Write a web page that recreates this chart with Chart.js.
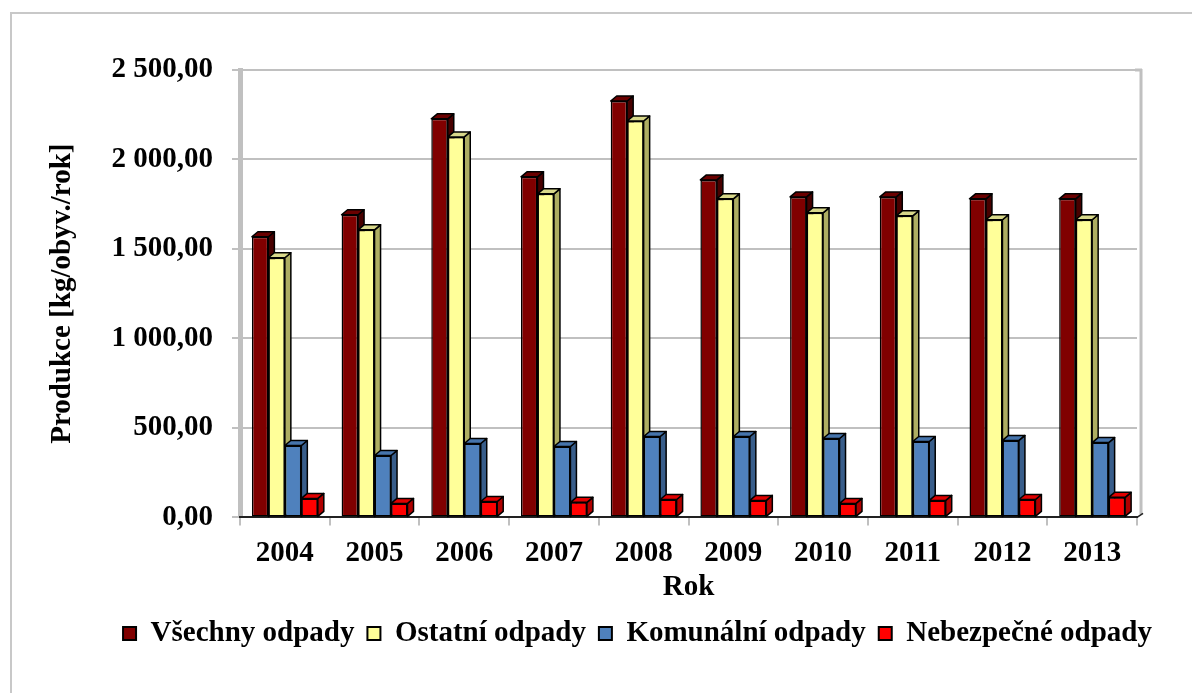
<!DOCTYPE html>
<html><head><meta charset="utf-8">
<script src="https://cdn.jsdelivr.net/npm/chart.js@4/dist/chart.umd.min.js"></script>
<style>html,body{margin:0;padding:0;background:#fff;}#wrap{width:1192px;height:693px;position:relative;}</style>
</head><body><div id="wrap"><canvas id="c" width="1192" height="693"></canvas></div>
<script>
const years = ['2004','2005','2006','2007','2008','2009','2010','2011','2012','2013'];
const vsechny    = [1568,1691,2227,1903,2327,1886,1791,1791,1780,1780];
const ostatni    = [1451,1607,2126,1808,2215,1780,1702,1685,1663,1663];
const komunalni  = [402,346,413,396,452,452,441,424,430,418];
const nebezpecne = [106,78,89,84,100,95,78,95,100,112];
const seriesNames = ['Všechny odpady','Ostatní odpady','Komunální odpady','Nebezpečné odpady'];
const yTicks = [0,500,1000,1500,2000,2500];
const yTitle = 'Produkce [kg/obyv./rok]';
const xTitle = 'Rok';

const frontColors = ['#800000','#FFFF99','#4F81BD','#FF0000'];
const topColors   = ['#6A0000','#D8D88A','#4674AC','#E00000'];
const sideColors  = ['#480000','#AEAE62','#385D8A','#B00000'];
const FONT = '"Liberation Serif", "Times New Roman", serif';

function fmt(v){
  const s = Number(v).toFixed(2).split('.');
  const i = s[0].replace(/\B(?=(\d{3})+(?!\d))/g, ' ');
  return i + ',' + s[1];
}

const DX = 6, DY = 5;

const frame = {
  id:'frame',
  beforeDraw(chart){
    const ctx = chart.ctx;
    ctx.save();
    ctx.fillStyle = '#fff';
    ctx.fillRect(0,0,chart.width,chart.height);
    ctx.strokeStyle = '#C8C8C8';
    ctx.lineWidth = 2;
    ctx.strokeRect(11,13,1400,900);
    ctx.restore();
  },
  beforeDatasetsDraw(chart){
    const {ctx, chartArea:a} = chart;
    ctx.save();
    ctx.strokeStyle = '#C0C0C0';
    ctx.lineWidth = 3;
    ctx.beginPath();
    ctx.moveTo(a.right + 4, a.top - 1);
    ctx.lineTo(a.right + 4, a.bottom - 3);
    ctx.stroke();
    ctx.beginPath();
    ctx.moveTo(a.right - 2, a.top);
    ctx.lineTo(a.right + 5, a.top);
    ctx.stroke();
    ctx.strokeStyle = '#222';
    ctx.lineWidth = 1.5;
    ctx.beginPath();
    ctx.moveTo(a.right, a.bottom);
    ctx.lineTo(a.right + 6, a.bottom - 4);
    ctx.stroke();
    ctx.restore();
  }
};

const bars3d = {
  id:'bars3d',
  afterDatasetsDraw(chart){
    const ctx = chart.ctx;
    const n = chart.data.datasets.length;
    ctx.save();
    ctx.lineJoin = 'round';
    for (let d = 0; d < n; d++){
      const meta = chart.getDatasetMeta(d);
      meta.data.forEach(el => {
        const {x, y, base, width} = el.getProps(['x','y','base','width'], true);
        const l = x - width/2, r = x + width/2;
        ctx.lineWidth = 1.5;
        ctx.strokeStyle = '#000';
        ctx.beginPath();
        ctx.moveTo(r, y); ctx.lineTo(r+DX, y-DY); ctx.lineTo(r+DX, base-DY); ctx.lineTo(r, base); ctx.closePath();
        ctx.fillStyle = sideColors[d]; ctx.fill(); ctx.stroke();
        ctx.beginPath();
        ctx.moveTo(l, y); ctx.lineTo(l+DX, y-DY); ctx.lineTo(r+DX, y-DY); ctx.lineTo(r, y); ctx.closePath();
        ctx.fillStyle = topColors[d]; ctx.fill(); ctx.stroke();
      });
      if (d + 1 < n){
        chart.getDatasetMeta(d+1).data.forEach(el => el.draw(ctx, chart.chartArea));
      }
    }
    ctx.restore();
  }
};

const legendShift = {
  id:'legendShift',
  afterLayout(chart){
    const lg = chart.legend;
    if (lg){ lg.left += 59; lg.right += 59; }
  }
};

const datasets = [vsechny, ostatni, komunalni, nebezpecne].map((arr, i) => ({
  label: seriesNames[i],
  data: arr,
  backgroundColor: frontColors[i],
  borderColor: '#000',
  borderWidth: 1.5,
  borderSkipped: false
}));

new Chart(document.getElementById('c'), {
  type:'bar',
  data:{ labels: years, datasets },
  options:{
    responsive:false,
    animation:false,
    devicePixelRatio:1,
    categoryPercentage:0.735,
    barPercentage:1,
    layout:{ padding:{ left:20, top:70, right:55, bottom:35 } },
    plugins:{
      tooltip:{enabled:false},
      legend:{
        position:'bottom',
        labels:{
          color:'#000',
          font:{ family:FONT, size:29, weight:'bold' },
          boxWidth:13, boxHeight:13, padding:13,
          generateLabels(chart){
            return chart.data.datasets.map((ds,i)=>({
              text: ds.label, fillStyle: frontColors[i], strokeStyle:'#000', lineWidth:2,
              datasetIndex:i, hidden:false, fontColor:'#000'
            }));
          }
        }
      }
    },
    scales:{
      y:{
        min:0, max:2500,
        afterBuildTicks(scale){ scale.ticks = yTicks.map(v => ({value:v})); },
        afterFit(scale){ scale.width = 220; },
        ticks:{ color:'#000', padding:19, font:{family:FONT, size:29, weight:'bold'}, callback:(v)=>fmt(v) },
        grid:{ color:'#C0C0C0', lineWidth:2, tickLength:8, tickColor:'#C0C0C0' },
        border:{ display:true, color:'#C0C0C0', width:5 },
        title:{ display:true, text:yTitle, color:'#000', font:{family:FONT, size:29, weight:'bold'}, padding:{top:25,bottom:0} }
      },
      x:{
        ticks:{ color:'#000', padding:11, font:{family:FONT, size:29, weight:'bold'} },
        grid:{ drawOnChartArea:false, drawTicks:true, tickLength:8, tickColor:'#C0C0C0', lineWidth:2, offset:true },
        border:{ display:true, color:'#222', width:2 },
        title:{ display:true, text:xTitle, color:'#000', font:{family:FONT, size:29, weight:'bold'}, padding:{top:-12,bottom:1} }
      }
    }
  },
  plugins:[frame, bars3d, legendShift]
});
</script></body></html>
